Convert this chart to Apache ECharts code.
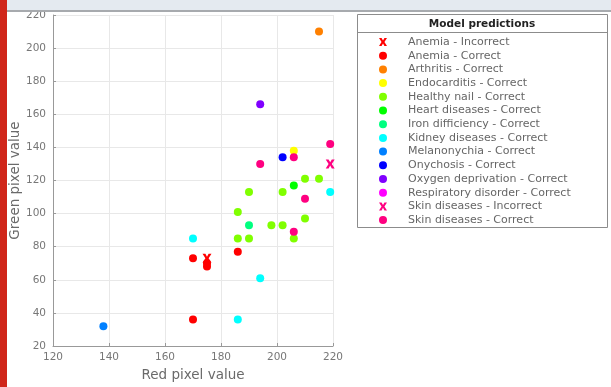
<!DOCTYPE html>
<html>
<head>
<meta charset="utf-8">
<script src="https://cdn.jsdelivr.net/npm/echarts@6/dist/echarts.min.js"></script>
<style>
html,body{margin:0;padding:0;background:#fff;}
#chart{width:611px;height:387px;}
</style>
</head>
<body>
<div id="chart"></div>
<script>
// ---- data ----
var xTicks = [120, 140, 160, 180, 200, 220];
var yTicks = [20, 40, 60, 80, 100, 120, 140, 160, 180, 200, 220];

var seriesNames = [
  'Anemia - Incorrect', 'Anemia - Correct', 'Arthritis - Correct', 'Endocarditis - Correct',
  'Healthy nail - Correct', 'Heart diseases - Correct', 'Iron difficiency - Correct',
  'Kidney diseases - Correct', 'Melanonychia - Correct', 'Onychosis - Correct',
  'Oxygen deprivation - Correct', 'Respiratory disorder - Correct',
  'Skin diseases - Incorrect', 'Skin diseases - Correct'
];
var seriesColors = [
  '#ff0000', '#ff0000', '#ff8000', '#ffff00', '#80ff00', '#00ff00', '#00ff80',
  '#00ffff', '#0080ff', '#0000ff', '#8000ff', '#ff00ff', '#ff0080', '#ff0080'
];
var incorrectFlags = [true, false, false, false, false, false, false, false, false, false, false, false, true, false];

var anemiaIncorrect = [[175, 73]];
var anemiaCorrect = [[170, 73], [175, 70], [175, 68], [186, 77], [170, 36]];
var arthritisCorrect = [[215, 210]];
var endocarditisCorrect = [[206, 138]];
var healthyCorrect = [[210, 121], [215, 121], [190, 113], [202, 113], [186, 101], [198, 93], [202, 93], [210, 97], [186, 85], [190, 85], [206, 85]];
var heartCorrect = [[206, 117]];
var ironCorrect = [[190, 93]];
var kidneyCorrect = [[219, 113], [170, 85], [194, 61], [186, 36]];
var melanonychiaCorrect = [[138, 32]];
var onychosisCorrect = [[202, 134]];
var oxygenCorrect = [[194, 166]];
var respiratoryCorrect = [];
var skinIncorrect = [[219, 130]];
var skinCorrect = [[219, 142], [206, 134], [194, 130], [210, 109], [206, 89]];

var seriesData = [anemiaIncorrect, anemiaCorrect, arthritisCorrect, endocarditisCorrect,
  healthyCorrect, heartCorrect, ironCorrect, kidneyCorrect, melanonychiaCorrect,
  onychosisCorrect, oxygenCorrect, respiratoryCorrect, skinIncorrect, skinCorrect];

// ---- chart ----
var FONT = 'DejaVu Sans';
var xMark = 'path://M0,0L3.2,0L5,3.2L6.8,0L10,0L6.8,5L10,10L6.8,10L5,6.8L3.2,10L0,10L3.2,5Z';

var series = seriesNames.map(function (name, i) {
  return {
    name: name,
    type: 'scatter',
    data: seriesData[i],
    symbol: incorrectFlags[i] ? xMark : 'circle',
    symbolSize: incorrectFlags[i] ? 9 : 8,
    itemStyle: { color: seriesColors[i], opacity: 1 },
    emphasis: { disabled: true },
    animation: false
  };
});

var chart = echarts.init(document.getElementById('chart'), null, { renderer: 'canvas' });
chart.setOption({
  backgroundColor: '#ffffff',
  animation: false,
  textStyle: { fontFamily: FONT },
  grid: { left: 53, right: 278, top: 15, bottom: 41, containLabel: false },
  xAxis: {
    type: 'value', min: xTicks[0], max: xTicks[xTicks.length - 1], interval: 20,
    name: 'Red pixel value', nameLocation: 'middle', nameGap: 22,
    nameTextStyle: { fontFamily: FONT, fontSize: 13.5, color: '#6a6a6a' },
    axisLine: { show: true, lineStyle: { color: '#999', width: 1 } },
    axisTick: { show: true, inside: true, length: 3, lineStyle: { color: '#999' } },
    axisLabel: { fontFamily: FONT, fontSize: 10.5, color: '#777', margin: 6 },
    splitLine: { show: true, lineStyle: { color: '#e8e8e8', width: 1 } }
  },
  yAxis: {
    type: 'value', min: yTicks[0], max: yTicks[yTicks.length - 1], interval: 20,
    name: 'Green pixel value', nameLocation: 'middle', nameGap: 30,
    nameTextStyle: { fontFamily: FONT, fontSize: 13.5, color: '#6a6a6a' },
    axisLine: { show: true, lineStyle: { color: '#999', width: 1 } },
    axisTick: { show: true, inside: true, length: 3, lineStyle: { color: '#999' } },
    axisLabel: { fontFamily: FONT, fontSize: 10.5, color: '#777', margin: 7 },
    splitLine: { show: true, lineStyle: { color: '#e8e8e8', width: 1 } }
  },
  legend: {
    orient: 'vertical', left: 374, top: 30.5,
    itemWidth: 40, itemHeight: 8, itemGap: 0.7,
    symbolKeepAspect: true,
    selectedMode: false,
    data: seriesNames,
    textStyle: { fontFamily: FONT, fontSize: 11, color: '#666', lineHeight: 13 }
  },
  graphic: [
    { type: 'rect', z: 100, shape: { x: 0, y: 0, width: 7, height: 387 }, style: { fill: '#d0261a' } },
    { type: 'rect', z: 100, shape: { x: 7, y: 0, width: 604, height: 10 }, style: { fill: '#e4eaf0' } },
    { type: 'rect', z: 100, shape: { x: 7, y: 10, width: 604, height: 2 }, style: { fill: '#a7aaae' } },
    { type: 'rect', z: -1, shape: { x: 357.5, y: 14.5, width: 250, height: 213 }, style: { fill: '#fff', stroke: '#8c8c8c', lineWidth: 1 } },
    { type: 'line', z: 1, shape: { x1: 357.5, y1: 32.5, x2: 607.5, y2: 32.5 }, style: { stroke: '#8c8c8c', lineWidth: 1 } },
    { type: 'text', z: 1, x: 482, y: 24, style: { text: 'Model predictions', font: 'bold 10.5px "DejaVu Sans"', fill: '#222', textAlign: 'center', textVerticalAlign: 'middle' } }
  ],
  series: series
});
</script>
</body>
</html>
